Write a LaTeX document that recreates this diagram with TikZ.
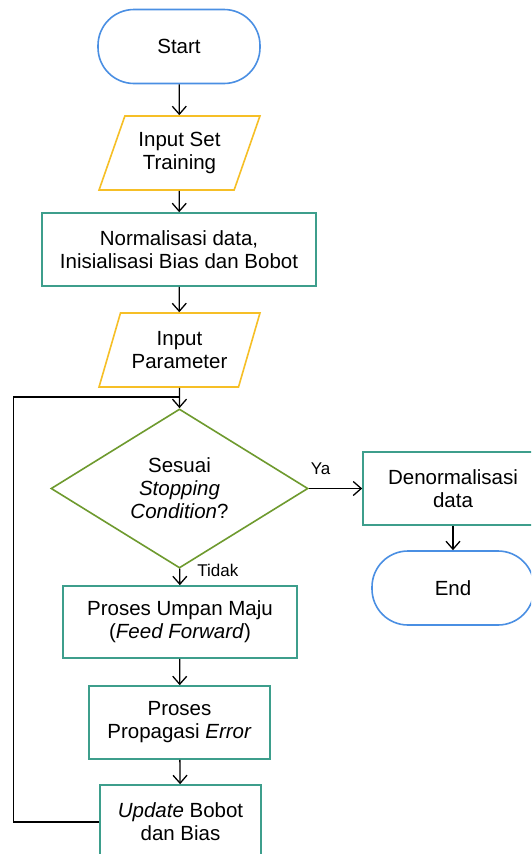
\documentclass[tikz,border=0pt]{standalone}
\usepackage{fontspec}
\setmainfont{Liberation Sans}
\usetikzlibrary{shapes.geometric,arrows.meta}
\definecolor{cblue}{HTML}{4A8FE3}
\definecolor{cyellow}{HTML}{F6BF26}
\definecolor{cteal}{HTML}{3D9E8C}
\definecolor{cgreen}{HTML}{6E9A2E}
\tikzset{
  every node/.style={font=\fontsize{20.5}{23}\selectfont, align=center, inner sep=0pt},
  terminal/.style={draw=cblue, line width=1.6pt, rectangle, rounded corners=36pt, minimum width=162pt, minimum height=74pt},
  iobox/.style={draw=cyellow, line width=1.6pt, trapezium, trapezium left angle=65, trapezium right angle=115, trapezium stretches=true, minimum width=161pt, minimum height=74pt},
  procbox/.style={draw=cteal, line width=1.6pt, rectangle, minimum height=73pt},
  decbox/.style={draw=cgreen, line width=1.6pt, diamond, minimum width=257pt, minimum height=145pt},
  flow/.style={line width=1.3pt, -{Straight Barb[length=8pt,width=14pt,line width=1.3pt]}},
  lbl/.style={font=\fontsize{17}{19}\selectfont},
}
\begin{document}
\begin{tikzpicture}[x=1pt,y=-1pt]
\useasboundingbox (0,0) rectangle (531,854);
\clip (0,0) rectangle (531,854);
\fill[white] (0,0) rectangle (531,854);
\node[terminal] (start) at (179,46.5) {Start};
\node[iobox] (in1) at (179.5,153) {Input Set\\Training};
\node[procbox, minimum width=274pt] (norm) at (179,249.5) {Normalisasi data,\\Inisialisasi Bias dan Bobot};
\node[iobox] (in2) at (179.5,350) {Input\\Parameter};
\node[decbox] (dec) at (179.5,488.5) {Sesuai\\\textit{Stopping}\\\textit{Condition}?};
\node[procbox, minimum width=180pt] (den) at (453,488.5) {Denormalisasi\\data};
\node[terminal] (end) at (453,588) {End};
\node[procbox, minimum width=234pt, minimum height=72pt] (ff) at (180,622) {Proses Umpan Maju\\(\textit{Feed Forward})};
\node[procbox, minimum width=181pt] (err) at (179.5,722.5) {Proses\\Propagasi \textit{Error}};
\node[procbox, minimum width=161pt, minimum height=74pt] (upd) at (180.5,822) {\textit{Update} Bobot\\dan Bias};
\coordinate (jn) at (179.5,397);
\coordinate (lx) at (13.5,822);
\draw[flow] (start) -- (in1);
\draw[flow] (in1) -- (norm);
\draw[flow] (norm) -- (in2);
\draw[flow] (in2) -- (dec);
\draw[flow] (dec) -- (den) node[lbl, pos=0.22, above=13pt] {Ya};
\draw[flow] (dec) -- (ff) node[lbl, pos=0.1, anchor=west, xshift=17pt] {Tidak};
\draw[flow] (ff) -- (err);
\draw[flow] (err) -- (upd);
\draw[flow] (den) -- (end);
\draw[line width=1.3pt] (upd.west) -- (lx) |- (jn);
\end{tikzpicture}
\end{document}
